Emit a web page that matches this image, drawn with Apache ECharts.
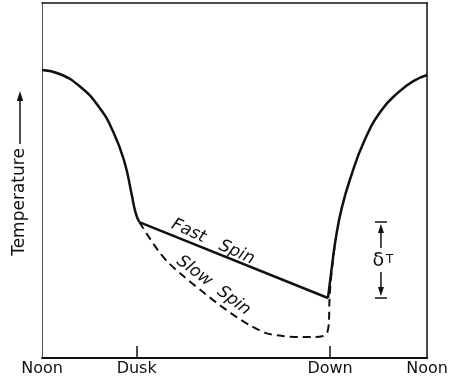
<!DOCTYPE html>
<html>
<head>
<meta charset="utf-8">
<script src="https://cdn.jsdelivr.net/npm/echarts@6/dist/echarts.min.js"></script>
<style>
  html, body { margin: 0; padding: 0; background: #fff; }
  #chart { width: 451px; height: 383px; }
</style>
</head>
<body>
<div id="chart"></div>
<script>
// Hours after local noon (0 = noon, 24 = next noon); temperature in arbitrary units.
const tickHours = [0, 5.9, 17.95, 24];
const tickLabels = ['Noon', 'Dusk', 'Down', 'Noon'];

// Afternoon cooling, noon to dusk
const eveningHours = [0, 1.10, 2.33, 3.55, 4.47, 5.14, 5.57, 5.82, 6.06];
const eveningTemp  = [81.1, 80.0, 76.6, 70.7, 63.4, 55.2, 46.5, 41.1, 38.3];

// Night, fast spin: straight cooling from dusk to dawn
const fastSpinHours = [6.06, 17.82];
const fastSpinTemp  = [38.3, 16.9];

// Night, slow spin
const slowSpinHours = [6.06, 6.61, 7.22, 7.84, 8.88, 9.86, 10.90, 11.94, 12.92, 13.96, 15.0, 15.98, 17.02, 17.51, 17.76, 17.88, 17.90, 17.95, 18.0, 18.09, 18.25];
const slowSpinTemp  = [38.3, 34.4, 30.4, 27.0, 22.8, 19.2, 15.5, 12.1, 9.3, 7.0, 6.2, 5.9, 5.9, 6.2, 7.0, 9.9, 14.9, 19.2, 22.0, 26.0, 32.0];

// Morning warming, dawn to noon
const morningHours = [17.82, 18.06, 18.31, 18.68, 19.22, 20.08, 21.12, 22.22, 23.14, 24.0];
const morningTemp  = [16.9, 25.6, 33.8, 42.3, 50.7, 61.1, 69.6, 74.9, 78.0, 79.7];

// Where the δT bracket stands (hours)
const deltaHour = 21.12;

// Curve labels and their anchors (hours, temperature)
const fastLabel = 'Fast   Spin';
const fastLabelAt = [10.65, 32.7];
const slowLabel = 'Slow  Spin';
const slowLabelAt = [10.69, 20.4];

const pairs = (xs, ys) => xs.map((x, i) => [x, ys[i]]);

const INK = '#111';
const FONT = 'DejaVu Sans';

const solidStyle = { color: INK, width: 2.5, type: 'solid' };
const dashedStyle = { color: INK, width: 2, type: [8, 5] };

const chart = echarts.init(document.getElementById('chart'), null, { renderer: 'canvas' });

const labelMark = (text, at, angle) => ({
  symbol: 'circle',
  symbolSize: 0,
  silent: true,
  data: [{ coord: at }],
  label: {
    show: true,
    position: 'inside',
    formatter: text,
    rotate: angle,
    fontStyle: 'italic',
    fontFamily: FONT,
    fontSize: 17,
    color: INK
  }
});

const frameAxis = { show: false };

const option = {
  animation: false,
  backgroundColor: '#fff',
  grid: { left: 42, right: 17, top: 3, bottom: 25, show: false },
  xAxis: [
    {
      type: 'value', min: 0, max: 24, interval: 6,
      axisLine: { show: true, onZero: false, lineStyle: { color: INK, width: 2 } },
      axisTick: { show: true, inside: true, length: 12, customValues: [tickHours[1], tickHours[2]], lineStyle: { color: INK, width: 1.5 } },
      axisLabel: {
        show: true,
        customValues: tickHours,
        formatter: v => tickLabels[tickHours.indexOf(v)] || '',
        margin: 3,
        fontFamily: FONT, fontSize: 16, color: INK
      },
      splitLine: { show: false }
    },
    {
      type: 'value', min: 0, max: 24, position: 'top',
      axisLine: { show: true, onZero: false, lineStyle: { color: INK, width: 1.5 } },
      axisTick: frameAxis, axisLabel: frameAxis, splitLine: frameAxis
    }
  ],
  yAxis: [
    {
      type: 'value', min: 0, max: 100,
      axisLine: { show: true, onZero: false, lineStyle: { color: '#555', width: 1 } },
      axisTick: frameAxis, axisLabel: frameAxis, splitLine: frameAxis
    },
    {
      type: 'value', min: 0, max: 100, position: 'right',
      axisLine: { show: true, onZero: false, lineStyle: { color: INK, width: 1.5 } },
      axisTick: frameAxis, axisLabel: frameAxis, splitLine: frameAxis
    }
  ],
  graphic: [
    {
      type: 'text', x: 20, y: 202, rotation: Math.PI / 2,
      style: { text: 'Temperature', font: '17px "DejaVu Sans"', fill: INK, align: 'center', verticalAlign: 'middle' }
    },
    { type: 'line', shape: { x1: 20, y1: 144, x2: 20, y2: 98 }, style: { stroke: INK, lineWidth: 1.5 } },
    { type: 'polygon', shape: { points: [[20, 91], [16.8, 101], [23.2, 101]] }, style: { fill: INK } }
  ],
  series: [
    {
      name: 'Evening', type: 'line', data: pairs(eveningHours, eveningTemp),
      smooth: 0.5, showSymbol: false, lineStyle: solidStyle, silent: true
    },
    {
      name: 'Fast Spin', type: 'line', data: pairs(fastSpinHours, fastSpinTemp),
      showSymbol: false, lineStyle: solidStyle, silent: true,
      markPoint: labelMark(fastLabel, fastLabelAt, -24)
    },
    {
      name: 'Slow Spin', type: 'line', data: pairs(slowSpinHours, slowSpinTemp),
      smooth: 0.25, showSymbol: false, lineStyle: dashedStyle, silent: true,
      markPoint: labelMark(slowLabel, slowLabelAt, -37)
    },
    {
      name: 'Morning', type: 'line', data: pairs(morningHours, morningTemp),
      smooth: 0.5, showSymbol: false, lineStyle: solidStyle, silent: true
    },
    {
      name: 'δT', type: 'custom', silent: true,
      data: [[deltaHour, fastSpinTemp[0], fastSpinTemp[1]]],
      encode: { x: 0, y: [1, 2] },
      renderItem: (params, api) => {
        const top = api.coord([api.value(0), api.value(1)]);
        const bot = api.coord([api.value(0), api.value(2)]);
        const cx = top[0], t = top[1], b = bot[1], mid = (t + b) / 2;
        const st = { stroke: INK, lineWidth: 1.5, fill: null };
        return {
          type: 'group',
          children: [
            { type: 'line', shape: { x1: cx - 6, y1: t, x2: cx + 6, y2: t }, style: st },
            { type: 'line', shape: { x1: cx - 6, y1: b, x2: cx + 6, y2: b }, style: st },
            { type: 'polygon', shape: { points: [[cx, t + 2], [cx - 3, t + 11], [cx + 3, t + 11]] }, style: { fill: INK } },
            { type: 'line', shape: { x1: cx, y1: t + 10, x2: cx, y2: mid - 12 }, style: st },
            { type: 'line', shape: { x1: cx, y1: mid + 12, x2: cx, y2: b - 10 }, style: st },
            { type: 'polygon', shape: { points: [[cx, b - 2], [cx - 3, b - 11], [cx + 3, b - 11]] }, style: { fill: INK } },
            {
              type: 'text', x: cx + 2, y: mid + 1,
              style: {
                text: '{d|δ}{t|T}',
                align: 'center', verticalAlign: 'middle',
                rich: {
                  d: { fontFamily: FONT, fontSize: 19, fill: INK, color: INK },
                  t: { fontFamily: FONT, fontSize: 12, fill: INK, color: INK, padding: [0, 0, 2, 2] }
                }
              }
            }
          ]
        };
      }
    }
  ]
};

chart.setOption(option);
</script>
</body>
</html>
